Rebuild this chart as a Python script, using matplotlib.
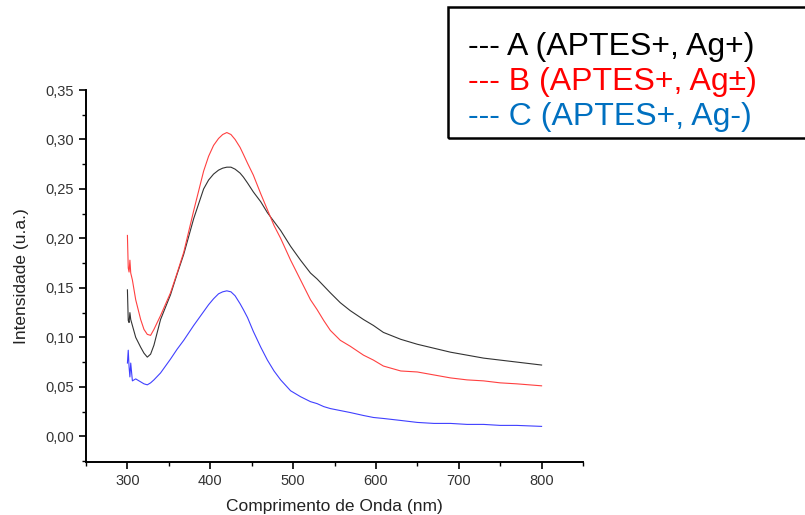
import matplotlib
matplotlib.use('Agg')
import matplotlib.pyplot as plt
from matplotlib.ticker import MultipleLocator, FuncFormatter

plt.rcParams.update({
    'font.family': ['Liberation Sans', 'DejaVu Sans'],
    'font.size': 10.5,
    'axes.linewidth': 1.4,
})

# ─── Data ────────────────────────────────────────────────────────────────────
wavelength = [300, 301, 302, 303, 304, 306, 310, 316, 320, 324, 328, 332, 340,
              352, 360, 368, 380, 392, 398, 404, 410, 415, 420, 425, 430, 436,
              440, 445, 452, 461, 469, 477, 485, 497, 509, 521, 529, 537, 545,
              557, 569, 585, 597, 609, 630, 650, 670, 690, 710, 730, 750, 770, 800]

spec_a = [0.148, 0.117, 0.115, 0.125, 0.118, 0.112, 0.100, 0.090, 0.084, 0.080,
          0.083, 0.092, 0.118, 0.143, 0.164, 0.184, 0.220, 0.250, 0.259, 0.265,
          0.269, 0.271, 0.272, 0.272, 0.270, 0.266, 0.262, 0.256, 0.247, 0.237,
          0.226, 0.217, 0.208, 0.192, 0.178, 0.165, 0.159, 0.152, 0.145, 0.135,
          0.127, 0.118, 0.112, 0.105, 0.098, 0.093, 0.089, 0.085, 0.082, 0.079,
          0.077, 0.075, 0.072]

spec_b = [0.203, 0.170, 0.166, 0.178, 0.165, 0.158, 0.138, 0.118, 0.108, 0.103,
          0.102, 0.108, 0.122, 0.145, 0.165, 0.186, 0.228, 0.268, 0.283, 0.294,
          0.301, 0.305, 0.307, 0.305, 0.300, 0.292, 0.285, 0.276, 0.264, 0.245,
          0.229, 0.213, 0.200, 0.178, 0.158, 0.138, 0.128, 0.117, 0.107, 0.097,
          0.091, 0.082, 0.077, 0.071, 0.066, 0.065, 0.062, 0.059, 0.057, 0.056,
          0.054, 0.053, 0.051]

spec_c = [0.074, 0.087, 0.070, 0.060, 0.074, 0.056, 0.058, 0.055, 0.053, 0.052,
          0.054, 0.057, 0.064, 0.078, 0.088, 0.097, 0.112, 0.126, 0.133, 0.139,
          0.144, 0.146, 0.147, 0.146, 0.142, 0.134, 0.128, 0.120, 0.106, 0.090,
          0.077, 0.066, 0.057, 0.046, 0.040, 0.035, 0.033, 0.030, 0.028, 0.026,
          0.024, 0.021, 0.019, 0.018, 0.016, 0.014, 0.013, 0.013, 0.012, 0.012,
          0.011, 0.011, 0.010]

legend_labels = ['--- A (APTES+, Ag+)', '--- B (APTES+, Ag±)', '--- C (APTES+, Ag-)']
legend_colors = ['#000000', '#ff0000', '#0070c0']

fig = plt.figure(figsize=(8.05, 5.15), dpi=100)
ax = fig.add_axes([86/805, 1-462/515, (583-86)/805, (462-90)/515])

ax.plot(wavelength, spec_a, color='#333333', lw=0.8)
ax.plot(wavelength, spec_b, color='#ff4040', lw=0.8)
ax.plot(wavelength, spec_c, color='#4040ff', lw=0.8)

ax.set_xlim(250, 850)
ax.set_ylim(-0.026, 0.35)
ax.xaxis.set_major_locator(MultipleLocator(100))
ax.xaxis.set_minor_locator(MultipleLocator(50))
ax.yaxis.set_major_locator(MultipleLocator(0.05))
ax.yaxis.set_minor_locator(MultipleLocator(0.025))
ax.yaxis.set_major_formatter(FuncFormatter(lambda v, p: f'{v:.2f}'.replace('.', ',')))
ax.tick_params(which='major', direction='out', length=5, width=1.2, labelcolor='#333333')
ax.tick_params(which='minor', direction='out', length=3, width=1.0)
ax.spines['top'].set_visible(False)
ax.spines['right'].set_visible(False)
ax.set_xlabel('Comprimento de Onda (nm)', fontsize=12.5, color='#222222', labelpad=8)
ax.set_ylabel('Intensidade (u.a.)', fontsize=12.5, color='#222222', labelpad=12)

# legend drawn as a text box, like the original slide
box = plt.Rectangle((448/805, 1-138/515), (806-448)/805, (138-7)/515,
                    transform=fig.transFigure, fill=False, ec='black', lw=1.8)
fig.patches.append(box)
for i, (lbl, col) in enumerate(zip(legend_labels, legend_colors)):
    fig.text(468/805, 1-(55+35*i)/515, lbl, color=col, fontsize=23,
             ha='left', va='baseline')

plt.savefig('out.png')
